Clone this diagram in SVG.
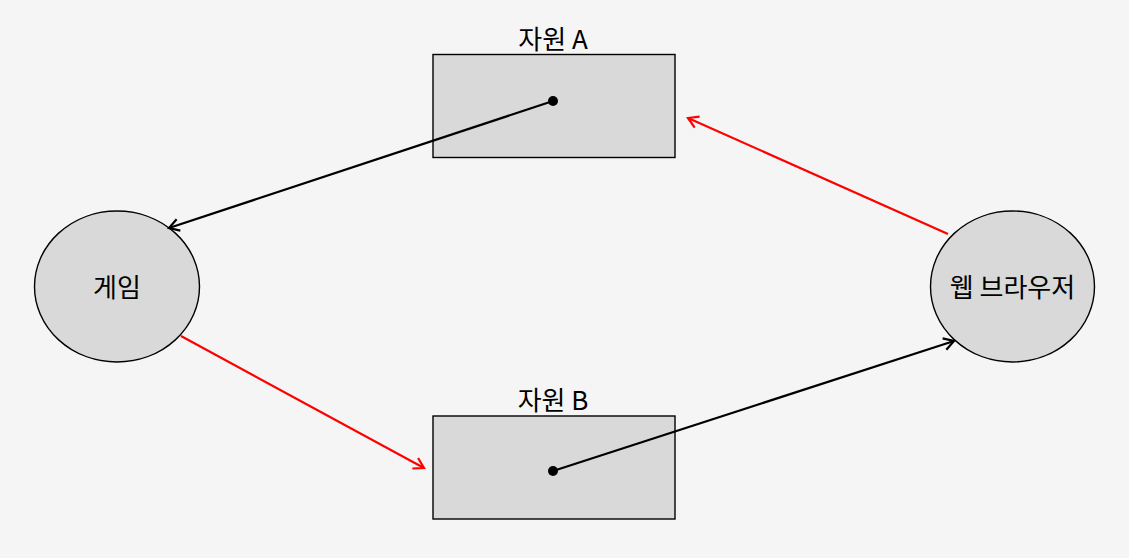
<svg xmlns="http://www.w3.org/2000/svg" width="1129" height="558" viewBox="0 0 1129 558">
<style>
.node{fill:#d9d9d9;stroke:#000;stroke-width:1.4}
.lbl{font-family:"Noto Sans CJK KR","Noto Sans",sans-serif;font-size:26px;fill:#000;text-anchor:middle}
.blk{stroke:#000;stroke-width:2.2;fill:none}
.red{stroke:#ff0000;stroke-width:2.2;fill:none}
</style>
<defs>
<marker id="ab" markerUnits="userSpaceOnUse" markerWidth="20" markerHeight="20" refX="0" refY="0" orient="auto" overflow="visible"><path d="M-10,-6 L0,0 L-10,6" fill="none" stroke="#000" stroke-width="2.2"/></marker>
<marker id="ar" markerUnits="userSpaceOnUse" markerWidth="20" markerHeight="20" refX="0" refY="0" orient="auto" overflow="visible"><path d="M-10,-6 L0,0 L-10,6" fill="none" stroke="#ff0000" stroke-width="2.2"/></marker>
</defs>
<rect width="1129" height="558" fill="#f5f5f5"/>
<g id="resA">
<rect class="node" x="433" y="54.5" width="242" height="103"/>
<text class="lbl" x="553" y="48.5">자원 A</text>
</g>
<g id="resB">
<rect class="node" x="433" y="416" width="242" height="103"/>
<text class="lbl" x="553" y="409.5">자원 B</text>
</g>
<g id="game">
<ellipse class="node" cx="117" cy="286.5" rx="82.5" ry="75.5"/>
<text class="lbl" x="117" y="296.5">게임</text>
</g>
<g id="browser">
<ellipse class="node" cx="1012.5" cy="286.5" rx="82" ry="75.5"/>
<text class="lbl" x="1012.5" y="296.5">웹 브라우저</text>
</g>
<g id="connectors">
<line class="blk" x1="553" y1="101" x2="169" y2="228" marker-end="url(#ab)"/>
<circle cx="553" cy="101" r="5" fill="#000"/>
<line class="red" x1="181" y1="336" x2="424" y2="468" marker-end="url(#ar)"/>
<line class="blk" x1="553" y1="471" x2="954" y2="341" marker-end="url(#ab)"/>
<circle cx="553" cy="471" r="5" fill="#000"/>
<line class="red" x1="948" y1="234" x2="688" y2="118" marker-end="url(#ar)"/>
</g>
</svg>
